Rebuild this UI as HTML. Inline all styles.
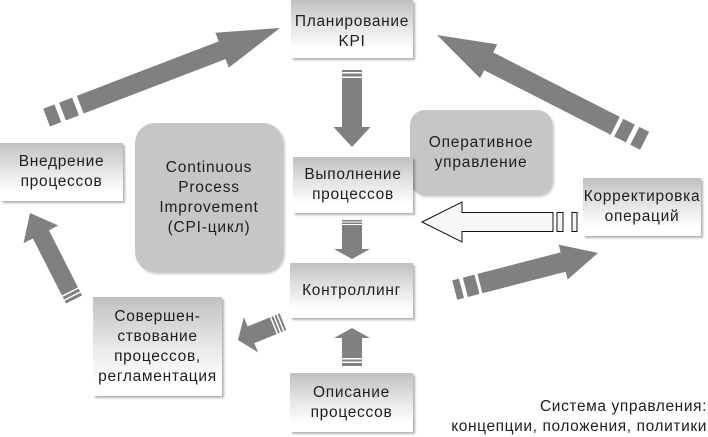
<!DOCTYPE html>
<html><head><meta charset="utf-8">
<style>
html,body{margin:0;padding:0;background:#fff;}
body{width:708px;height:435px;position:relative;overflow:hidden;font-family:"Liberation Sans","DejaVu Sans",sans-serif;color:#1e1e1e;}
.box{position:absolute;background:linear-gradient(to bottom,#c0c0c0 0%,#e4e4e4 45%,#ffffff 85%);box-shadow:2px 2px 2px rgba(0,0,0,0.3);display:flex;align-items:center;justify-content:center;text-align:center;font-size:15.5px;line-height:20px;letter-spacing:0.7px;box-sizing:border-box;white-space:nowrap;}
.rbox{position:absolute;background:#c6c6c6;box-shadow:2px 2px 2px rgba(0,0,0,0.22);display:flex;align-items:center;justify-content:center;text-align:center;font-size:15.5px;line-height:20px;letter-spacing:0.8px;box-sizing:border-box;}
svg{position:absolute;left:0;top:0;}
.note{position:absolute;right:1px;font-size:15.5px;line-height:20px;text-align:right;letter-spacing:0.6px;white-space:nowrap;}
</style></head>
<body>
<div class="rbox" style="left:135px;top:123px;width:148px;height:149px;border-radius:20px;">Continuous<br>Process<br>Improvement<br>(CPI-цикл)</div>
<div class="rbox" style="left:410px;top:110px;width:142px;height:85px;border-radius:15px;">Оперативное<br>управление</div>

<div class="box" style="left:291px;top:0px;width:122px;height:58px;padding-top:6px;">Планирование<br>KPI</div>
<div class="box" style="left:293px;top:157px;width:120px;height:56px;">Выполнение<br>процессов</div>
<div class="box" style="left:290px;top:263px;width:123px;height:55px;">Контроллинг</div>
<div class="box" style="left:290px;top:373px;width:123px;height:59px;">Описание<br>процессов</div>
<div class="box" style="left:0px;top:143px;width:123px;height:58px;">Внедрение<br>процессов</div>
<div class="box" style="left:93px;top:297px;width:129px;height:99px;">Совершен-<br>ствование<br>процессов,<br>регламентация</div>
<div class="box" style="left:583px;top:178px;width:118px;height:58px;">Корректировка<br>операций</div>

<div class="note" style="top:397px;">Система управления:</div>
<div class="note" style="top:417px;">концепции, положения, политики</div>

<svg width="708" height="435" viewBox="0 0 708 435">
<g fill="#808080">
  <g transform="translate(280,28) rotate(-21)">
    <polygon points="0,0 -62,-18.7 -62,-9.5 -214,-9.5 -214,9.5 -62,9.5 -62,18.7"/>
    <rect x="-233" y="-9.5" width="14" height="19"/>
    <rect x="-250" y="-9.5" width="12" height="19"/>
  </g>
  <g transform="translate(437,35) rotate(-153)">
    <polygon points="0,0 -58,-19 -58,-10 -200,-10 -200,10 -58,10 -58,19"/>
    <rect x="-217" y="-10" width="13" height="20"/>
    <rect x="-233" y="-10" width="11" height="20"/>
  </g>
  <g transform="translate(598,253) rotate(-14.5)">
    <polygon points="0,0 -36,-18 -36,-10 -122,-10 -122,10 -36,10 -36,18"/>
    <rect x="-137" y="-10" width="12" height="20"/>
    <rect x="-148" y="-10" width="7" height="20"/>
  </g>
  <g transform="translate(30,213) rotate(-117)">
    <polygon points="0,0 -24,-19.5 -24,-9 -88,-9 -88,9 -24,9 -24,19.5"/>
    <rect x="-92.5" y="-9" width="3" height="18"/>
    <rect x="-97" y="-9" width="3" height="18"/>
  </g>
  <g transform="translate(238,340) rotate(158)">
    <polygon points="0,0 -14,-19 -14,-9 -38,-9 -38,9 -14,9 -14,19"/>
    <rect x="-41.5" y="-9" width="2" height="18"/>
    <rect x="-45" y="-9" width="2" height="18"/>
    <rect x="-48.5" y="-9" width="2" height="18"/>
  </g>
  <rect x="342" y="70" width="20" height="2"/>
  <rect x="342" y="73.5" width="20" height="3"/>
  <polygon points="342,78 362,78 362,127 370.5,127 352,147 333.5,127 342,127"/>
  <rect x="342" y="220" width="20" height="1.5"/>
  <rect x="342" y="222.5" width="20" height="1.5"/>
  <polygon points="342,225 362,225 362,249 370,249 352,259 334,249 342,249"/>
  <polygon points="352,328 370,338 362,338 362,358 342,358 342,338 334,338"/>
  <rect x="342" y="359.5" width="20" height="2"/>
  <rect x="342" y="363" width="20" height="3"/>
</g>
<g fill="#f6f6f6" stroke="#111" stroke-width="1">
  <polygon points="422,222 462,202 462,212.5 553,212.5 553,231.5 462,231.5 462,242"/>
  <rect x="557" y="212.5" width="6" height="19"/>
  <rect x="572" y="212.5" width="5" height="19"/>
</g>
</svg>
</body></html>
